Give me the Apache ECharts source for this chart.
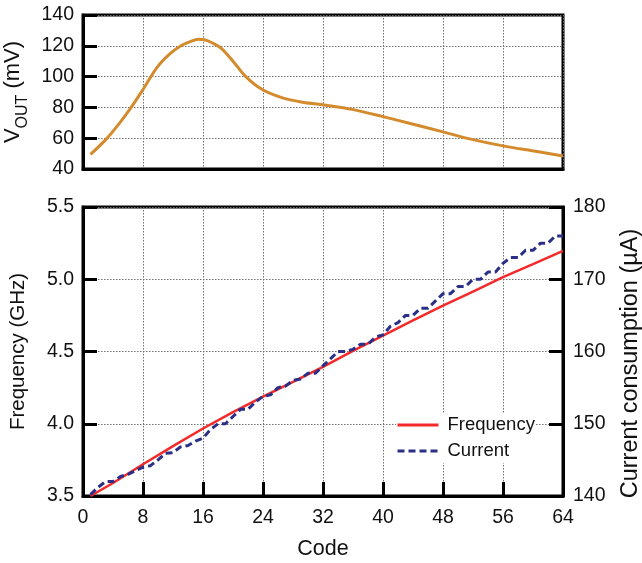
<!DOCTYPE html>
<html><head><meta charset="utf-8">
<script src="https://cdn.jsdelivr.net/npm/echarts@6/dist/echarts.min.js"></script>
<style>html,body{margin:0;padding:0;background:#fff}#c{width:642px;height:563px}</style>
</head><body><div id="c"></div>
<script>
// ---- data ----
const voutCodes  = [1, 3.1, 4.75, 6.4, 8, 9.9, 11.5, 12.9, 14.2, 15.4, 16.2, 17.2, 18.4, 20, 21.7, 23.9, 26.6, 29.3, 32.6, 35.9, 40, 43.5, 48, 51.7, 56, 59.9, 64];
const voutValues = [49.5, 59.4, 69, 79.8, 91.6, 106.2, 114.5, 119.6, 122.5, 124.2, 123.9, 122, 118.5, 110, 100, 91.6, 86.2, 83.4, 81.3, 78.7, 74, 69.7, 64.1, 59.4, 55, 51.8, 48.5];

const freqCodes  = [1, 4, 8, 12, 16, 20, 24, 28, 32, 36, 40, 44, 48, 52, 56, 60, 64];
const freqValues = [3.50, 3.59, 3.72, 3.845, 3.967, 4.08, 4.188, 4.29, 4.393, 4.505, 4.61, 4.715, 4.817, 4.915, 5.015, 5.105, 5.197];

const currentCodes  = [1,2,3,4,5,6,7,8,9,10,11,12,13,14,15,16,17,18,19,20,21,22,23,24,25,26,27,28,29,30,31,32,33,34,35,36,37,38,39,40,41,42,43,44,45,46,47,48,49,50,51,52,53,54,55,56,57,58,59,60,61,62,63,64];
const currentValues = [140.2,141.2,142,142,142.7,143,143.5,144,144.2,145,145.9,146,146.8,147,147.6,148,149.2,150,150,151,152,152,153,153.8,154,155,155.2,156,156.2,157,157,158,159,160,160,160.3,161,161,162,162.3,163.5,164,165,165,166,166,167,168,168,169,169,170,170,171,171,172.2,173,173,174,174,175,175,176,176];

const codeTicks = {min: 0, max: 64, interval: 8};
const voutTicks = {min: 40, max: 140, interval: 20};
const freqTicks = {min: 3.5, max: 5.5, interval: 0.5};
const currTicks = {min: 140, max: 180, interval: 10};

const seriesNames = ['Frequency', 'Current'];

// ---- styles ----
const REG = "'Liberation Sans',Arial,Helvetica,sans-serif";
const INK = '#111';
const axisLine = {show: true, lineStyle: {color: '#000', width: 3}};
const tickIn = {show: true, inside: true, length: 14, lineStyle: {color: '#000', width: 3}};
const dotted = {show: true, lineStyle: {color: '#6f6f6f', width: 1, type: [1.5, 1.5]}};
const tickLabel = (m) => ({color: INK, fontFamily: REG, fontSize: 19.5, margin: m});

const pairs = (xs, ys) => xs.map((x, i) => [x, ys[i]]);

const chart = echarts.init(document.getElementById('c'), null, {renderer: 'canvas'});
chart.setOption({
  animation: false,
  backgroundColor: '#fff',
  grid: [
    {left: 83, right: 79, top: 15, height: 154, show: true, borderColor: '#000', borderWidth: 3,
     backgroundColor: 'transparent', containLabel: false, outerBoundsMode: 'none'},
    {left: 83, right: 79, top: 207, height: 289, show: true, borderColor: '#000', borderWidth: 3,
     backgroundColor: 'transparent', containLabel: false, outerBoundsMode: 'none'}
  ],
  xAxis: [
    {gridIndex: 0, type: 'value', min: codeTicks.min, max: codeTicks.max, interval: codeTicks.interval,
     axisLine: axisLine, axisTick: {show: false}, axisLabel: {show: false}, splitLine: dotted},
    {gridIndex: 1, type: 'value', min: codeTicks.min, max: codeTicks.max, interval: codeTicks.interval,
     axisLine: axisLine, axisTick: tickIn, axisLabel: tickLabel(12), splitLine: dotted,
     name: 'Code', nameLocation: 'middle', nameGap: 42,
     nameTextStyle: {color: INK, fontFamily: REG, fontSize: 21.5}}
  ],
  yAxis: [
    {gridIndex: 0, type: 'value', min: voutTicks.min, max: voutTicks.max, interval: voutTicks.interval,
     axisLine: axisLine, axisTick: tickIn, axisLabel: tickLabel(9), splitLine: dotted,
     name: '{a|V}{b|OUT}{a| (mV)}', nameLocation: 'middle', nameRotate: 90, nameGap: 52,
     nameTextStyle: {color: INK, fontFamily: REG,
       rich: {a: {fontSize: 22, fontFamily: REG, color: INK, lineHeight: 30, verticalAlign: 'bottom', padding: [0,0,7,0]},
              b: {fontSize: 16, fontFamily: REG, color: INK, lineHeight: 30, verticalAlign: 'bottom', padding: [0,0,0,0]}}}},
    {gridIndex: 1, type: 'value', position: 'left', min: freqTicks.min, max: freqTicks.max, interval: freqTicks.interval,
     axisLine: axisLine, axisTick: tickIn,
     axisLabel: Object.assign(tickLabel(9), {formatter: v => v.toFixed(1)}), splitLine: dotted,
     name: 'Frequency (GHz)', nameLocation: 'middle', nameRotate: 90, nameGap: 54,
     nameTextStyle: {color: INK, fontFamily: REG, fontSize: 20.5}},
    {gridIndex: 1, type: 'value', position: 'right', min: currTicks.min, max: currTicks.max, interval: currTicks.interval,
     axisLine: axisLine, axisTick: tickIn, axisLabel: tickLabel(10), splitLine: {show: false},
     name: 'Current consumption (\u00b5A)', nameLocation: 'middle', nameRotate: 90, nameGap: 56,
     nameTextStyle: {color: INK, fontFamily: REG, fontSize: 23.5, padding: [0, 24, 0, 0]}}
  ],
  legend: {
    orient: 'vertical', left: 396, top: 413, itemWidth: 41, itemHeight: 14, itemGap: 6,
    backgroundColor: '#fff', padding: [2, 0, 2, 0],
    data: seriesNames,
    itemStyle: {opacity: 0},
    lineStyle: {width: 3},
    textStyle: {color: INK, fontFamily: REG, fontSize: 18.5, lineHeight: 20, padding: [0, 0, 0, 4]}
  },
  series: [
    {name: 'VOUT', type: 'line', xAxisIndex: 0, yAxisIndex: 0, data: pairs(voutCodes, voutValues),
     smooth: 0.35, symbol: 'none', lineStyle: {color: '#D38B2E', width: 3}, z: 3},
    {name: seriesNames[0], type: 'line', xAxisIndex: 1, yAxisIndex: 1, data: pairs(freqCodes, freqValues),
     symbol: 'none', lineStyle: {color: '#F42A2A', width: 2.5}, itemStyle: {color: '#F42A2A'}, z: 3},
    {name: seriesNames[1], type: 'line', xAxisIndex: 1, yAxisIndex: 2, data: pairs(currentCodes, currentValues),
     symbol: 'none', lineStyle: {color: '#2B2F86', width: 3, type: [7, 4]}, itemStyle: {color: '#2B2F86'}, z: 4}
  ]
});
</script></body></html>
